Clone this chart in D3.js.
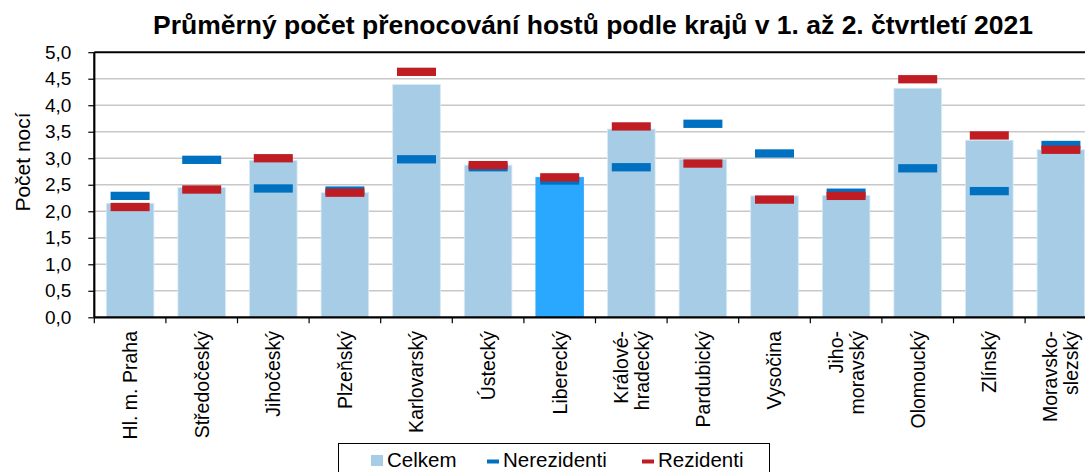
<!DOCTYPE html>
<html>
<head>
<meta charset="utf-8">
<script src="https://cdn.jsdelivr.net/npm/d3@7"></script>
<style>
  body { margin: 0; background: #fff; }
  svg { display: block; font-family: Arial, "Liberation Sans", sans-serif; }
</style>
</head>
<body>
<div id="chart-container"></div>
<script>
const width = 1085;
const height = 472;

// data
const regions = [
    ["Hl. m. Praha"], ["Středočeský"], ["Jihočeský"], ["Plzeňský"], ["Karlovarský"],
    ["Ústecký"], ["Liberecký"], ["Králové-", "hradecký"], ["Pardubický"], ["Vysočina"],
    ["Jiho-", "moravský"], ["Olomoucký"], ["Zlínský"], ["Moravsko-", "slezský"]
];
const celkem = [2.15, 2.45, 2.96, 2.35, 4.39, 2.87, 2.64, 3.55, 2.98, 2.29, 2.30, 4.32, 3.34, 3.16];
const nerezidenti = [2.29, 2.97, 2.43, 2.39, 2.98, 2.83, 2.58, 2.83, 3.65, 3.09, 2.35, 2.81, 2.38, 3.25];
const rezidenti = [2.08, 2.41, 3.00, 2.35, 4.63, 2.87, 2.64, 3.60, 2.90, 2.22, 2.29, 4.49, 3.43, 3.16];
const highlight = "Liberecký";
const yTicks = d3.range(0, 5.01, 0.5);

const keys = regions.map(r => r.join(""));

const x = d3.scaleBand(keys, [94.3, 1096.7])
    .paddingInner(0.335)
    .paddingOuter(0.1675);
const y = d3.scaleLinear([0, 5], [317.3, 52.2]);
const fmt = v => d3.format(".1f")(v).replace(".", ",");

const svg = d3.select("#chart-container")
    .append("svg")
    .attr("viewBox", [0, 0, width, height])
    .attr("width", width)
    .attr("height", height);

// title
svg.append("text")
    .attr("x", 593)
    .attr("y", 34)
    .attr("text-anchor", "middle")
    .attr("font-size", 25)
    .attr("font-weight", "bold")
    .attr("textLength", 880)
    .attr("lengthAdjust", "spacingAndGlyphs")
    .text("Průměrný počet přenocování hostů podle krajů v 1. až 2. čtvrtletí 2021");

// gridlines
svg.append("g")
    .selectAll("line")
    .data(yTicks.filter(d => d > 0 && d < 5))
    .join("line")
    .attr("x1", 94.3).attr("x2", width)
    .attr("y1", d => y(d)).attr("y2", d => y(d))
    .attr("stroke", "#c8c8c8")
    .attr("stroke-width", 1.5);

// bars
svg.append("g")
    .selectAll("rect")
    .data(celkem)
    .join("rect")
    .attr("x", (d, i) => x(keys[i]))
    .attr("y", d => y(d))
    .attr("width", x.bandwidth())
    .attr("height", d => y(0) - y(d))
    .attr("fill", (d, i) => keys[i] === highlight ? "#2aa8ff" : "#a7cde6")
    .attr("stroke", (d, i) => keys[i] === highlight ? "#2aa8ff" : "#d8e9f5")
    .attr("stroke-width", 0.8);

// markers
const mw = 39, mh = 8.3;
function markers(values, color) {
    svg.append("g")
        .selectAll("rect")
        .data(values)
        .join("rect")
        .attr("x", (d, i) => x(keys[i]) + x.bandwidth() / 2 - mw / 2)
        .attr("y", d => y(d) - mh / 2)
        .attr("width", mw)
        .attr("height", mh)
        .attr("fill", color);
}
markers(nerezidenti, "#0070c0");
markers(rezidenti, "#c01c24");

// frame: top line
svg.append("line")
    .attr("x1", 94.3).attr("x2", width)
    .attr("y1", y(5)).attr("y2", y(5))
    .attr("stroke", "#000").attr("stroke-width", 2);

// y axis
const yAxis = svg.append("g")
    .attr("transform", "translate(94.3,0)")
    .call(d3.axisLeft(y).tickValues(yTicks).tickFormat(fmt).tickSize(6).tickPadding(17));
yAxis.select(".domain").attr("stroke-width", 2.2).attr("d", `M0,${y(5)}V${y(0)}`);
yAxis.selectAll(".tick line").attr("stroke-width", 1.2);
yAxis.selectAll(".tick text").attr("font-size", 19).attr("fill", "#000")
    .attr("font-family", "Arial, 'Liberation Sans', sans-serif");

// x axis
const xAxis = svg.append("g")
    .attr("transform", `translate(0,${y(0)})`)
    .call(d3.axisBottom(x).tickSize(0).tickFormat(""));
xAxis.select(".domain").attr("stroke-width", 2.2).attr("d", `M94.3,0H${width}`);
xAxis.selectAll(".boundary")
    .data(d3.range(keys.length + 1))
    .join("line")
    .attr("class", "boundary")
    .attr("x1", i => 94.3 + i * x.step())
    .attr("x2", i => 94.3 + i * x.step())
    .attr("y1", 0).attr("y2", 6)
    .attr("stroke", "#000").attr("stroke-width", 1.2);

// category labels
const labels = svg.append("g")
    .selectAll("text")
    .data(regions)
    .join("text")
    .attr("transform", (d, i) => `translate(${x(keys[i]) + x.bandwidth() / 2},331) rotate(-90)`)
    .attr("text-anchor", "end")
    .attr("font-size", 19.5);
labels.selectAll("tspan")
    .data(d => d.map((t, j) => ({ t, j, n: d.length })))
    .join("tspan")
    .attr("x", 0)
    .attr("y", d => (d.j - (d.n - 1) / 2) * 21 + 6.9)
    .text(d => d.t);

// y title
svg.append("text")
    .attr("transform", "translate(30,162) rotate(-90)")
    .attr("text-anchor", "middle")
    .attr("font-size", 21)
    .text("Počet nocí");

// legend
const legend = svg.append("g");
legend.append("rect")
    .attr("x", 338.5).attr("y", 443.5)
    .attr("width", 431).attr("height", 40)
    .attr("fill", "#fff").attr("stroke", "#000").attr("stroke-width", 1);
const legendItems = [
    { label: "Celkem", x: 371, color: "#a7cde6", h: 11 },
    { label: "Nerezidenti", x: 487, color: "#0070c0", h: 4 },
    { label: "Rezidenti", x: 642, color: "#c01c24", h: 4 }
];
legendItems.forEach(d => {
    legend.append("rect")
        .attr("x", d.x).attr("y", d.h > 5 ? 455 : 459.5)
        .attr("width", 12).attr("height", d.h)
        .attr("fill", d.color);
    legend.append("text")
        .attr("x", d.x + 16).attr("y", 466.5)
        .attr("font-size", 20.5)
        .text(d.label);
});
</script>
</body>
</html>
